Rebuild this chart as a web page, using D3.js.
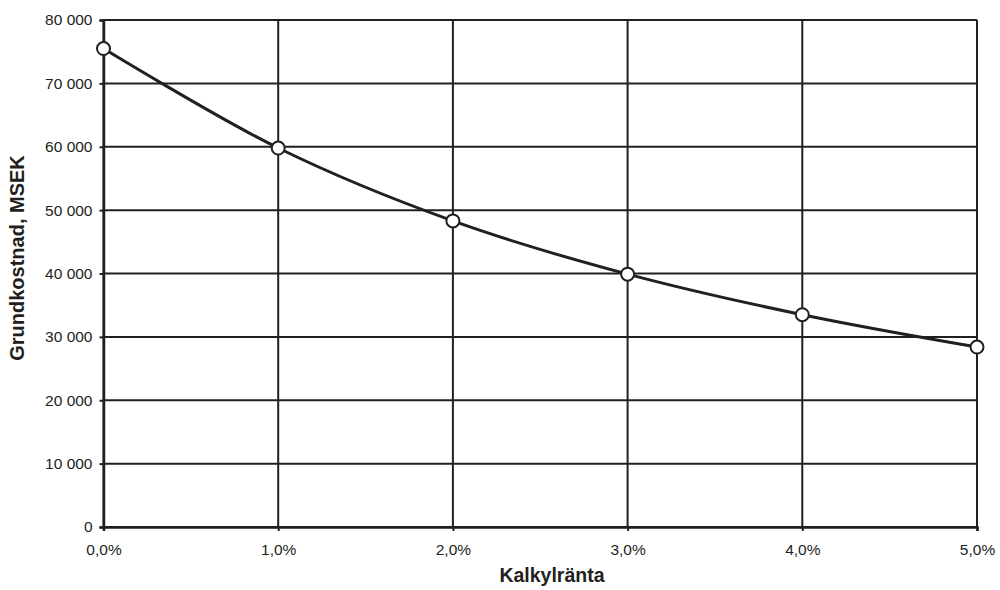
<!DOCTYPE html>
<html><head><meta charset="utf-8">
<script src="https://cdn.jsdelivr.net/npm/d3@7"></script>
<style>body{margin:0;background:#fff}svg{display:block}</style>
</head><body>
<svg id="c" width="1000" height="590"></svg>
<script>
const rates = [0, 1, 2, 3, 4, 5];
const costs = [75500, 59800, 48300, 39900, 33500, 28400];
const yTicks = [0, 10000, 20000, 30000, 40000, 50000, 60000, 70000, 80000];
const xTickLabels = ["0,0%", "1,0%", "2,0%", "3,0%", "4,0%", "5,0%"];
const xTitle = "Kalkylränta";
const yTitle = "Grundkostnad, MSEK";

const col = "#231f20";
const svg = d3.select("#c");
const L = 103.5, R = 977, T = 20, B = 527;
const x = d3.scaleLinear().domain([0, 5]).range([L, R]);
const y = d3.scaleLinear().domain([0, 80000]).range([B, T]);
const fmt = v => v === 0 ? "0" : d3.format(",")(v).replace(/,/g, " ");

// grid
svg.append("g").selectAll("line").data(yTicks).join("line")
  .attr("x1", L).attr("x2", R).attr("y1", d => y(d)).attr("y2", d => y(d))
  .attr("stroke", col).attr("stroke-width", 2);
svg.append("g").selectAll("line").data(rates).join("line")
  .attr("y1", T).attr("y2", B).attr("x1", d => x(d)).attr("x2", d => x(d))
  .attr("stroke", col).attr("stroke-width", 2);

// axes
const ya = svg.append("g").attr("transform", `translate(${L},0)`)
  .call(d3.axisLeft(y).tickValues(yTicks).tickFormat(fmt).tickSize(4).tickPadding(7));
const xa = svg.append("g").attr("transform", `translate(0,${B})`)
  .call(d3.axisBottom(x).tickValues(rates).tickFormat((d, i) => xTickLabels[i]).tickSize(4).tickPadding(13));
[ya, xa].forEach(a => {
  a.select(".domain").attr("stroke", col).attr("stroke-width", 2.5);
  a.selectAll(".tick line").attr("stroke", col).attr("stroke-width", 2);
  a.selectAll("text").attr("fill", col).style("font-family", "Liberation Sans, Arial, sans-serif").style("font-size", "15.5px");
});

// line
const line = d3.line().x((d, i) => x(rates[i])).y(d => y(d)).curve(d3.curveCatmullRom.alpha(0.5));
svg.append("path").datum(costs).attr("d", line)
  .attr("fill", "none").attr("stroke", col).attr("stroke-width", 3);
svg.append("g").selectAll("circle").data(costs).join("circle")
  .attr("cx", (d, i) => x(rates[i])).attr("cy", d => y(d)).attr("r", 6.5)
  .attr("fill", "#fff").attr("stroke", col).attr("stroke-width", 2);

// titles
svg.append("text").attr("x", 552).attr("y", 582).attr("text-anchor", "middle")
  .attr("fill", col).style("font-family", "Liberation Sans, Arial, sans-serif")
  .style("font-size", "19.5px").style("font-weight", "bold").text(xTitle);
svg.append("text").attr("transform", "translate(24,258) rotate(-90)").attr("text-anchor", "middle")
  .attr("fill", col).style("font-family", "Liberation Sans, Arial, sans-serif")
  .style("font-size", "20px").style("font-weight", "bold").text(yTitle);
</script>
</body></html>
